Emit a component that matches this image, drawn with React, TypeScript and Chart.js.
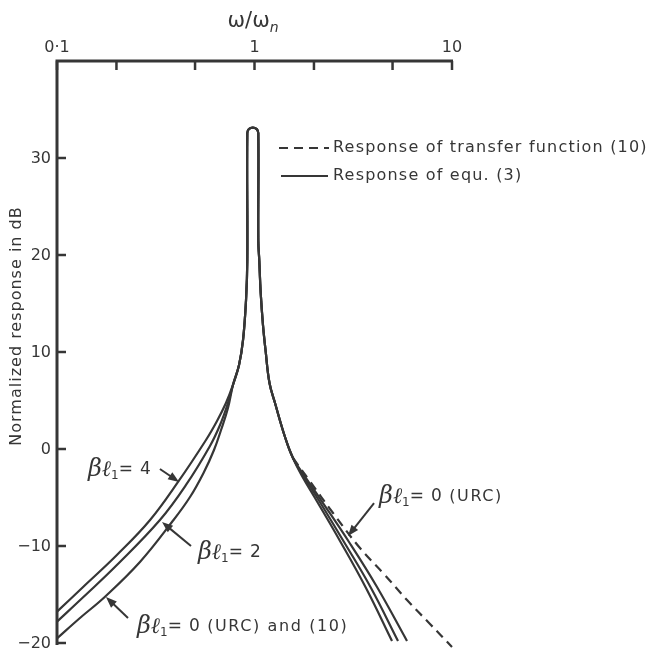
import React, { useEffect, useRef } from "react";
import { Chart, registerables } from "chart.js";

Chart.register(...registerables);

const W = 649;
const H = 650;

// axis ticks
const xTickValues = [0.1, 0.2, 0.5, 1, 2, 5, 10];
const xTickLabels = ["0·1", "", "", "1", "", "", "10"];
const yTickValues = [-20, -10, 0, 10, 20, 30];
const yTickLabels = ["−20", "−10", "0", "10", "20", "30"];

// low-frequency branches (omega/omega_n, dB) up to where the curves merge
const left4W = [0.1, 0.136, 0.201, 0.296, 0.411, 0.568, 0.646, 0.717];
const left4Db = [-16.77, -14.2, -10.93, -7.32, -3.37, 0.93, 2.89, 4.74];
const left2W = [0.1, 0.136, 0.201, 0.332, 0.45, 0.595, 0.669, 0.734];
const left2Db = [-17.8, -15.26, -11.96, -7.32, -3.71, 0.31, 2.47, 4.74];
const left0W = [0.1, 0.1307, 0.175, 0.263, 0.382, 0.4715, 0.555, 0.6236, 0.677, 0.734];
const left0Db = [-19.52, -17.42, -15.23, -11.65, -7.53, -4.95, -2.37, -0.1, 1.96, 4.23];

// common resonance peak
const peakW = [0.778, 0.835, 0.875, 0.906, 0.9195, 0.9195, 0.937, 0.98, 1.026, 1.045, 1.045, 1.057, 1.075, 1.104, 1.137, 1.191, 1.27, 1.427, 1.566];
const peakDb = [6.6, 8.66, 11.24, 15.36, 19.48, 32.58, 32.98, 33.14, 32.98, 32.58, 21.55, 19.48, 16.08, 12.78, 10.21, 6.8, 4.74, 1.24, -0.93];

// high-frequency branches
const right4W = [1.74, 2.025, 2.71, 3.669, 4.969];
const right4Db = [-2.78, -5.05, -9.48, -14.33, -19.79];
const right2W = [1.781, 2.097, 2.84, 3.89, 5.329];
const right2Db = [-2.89, -5.15, -9.59, -14.33, -19.79];
const right0W = [1.823, 2.171, 3.01, 4.172, 5.918];
const right0Db = [-2.99, -5.26, -9.59, -14.23, -19.79];

// transfer function (10), where it departs from the URC curve
const tfW = [1.566, 1.888, 2.498, 3.421, 4.525, 5.918, 7.738, 10];
const tfDb = [-0.93, -3.2, -6.6, -10.21, -12.89, -15.57, -18.04, -20.41];

const INK = "#363636";
const SANS = '"DejaVu Sans", sans-serif';
const SERIF = '"DejaVu Serif", serif';

const pts = (ws: number[], ds: number[]) => ws.map((w, i) => ({ x: w, y: ds[i] }));

function drawRich(
  ctx: CanvasRenderingContext2D,
  parts: { t: string; f: string; dy?: number; ls?: number }[],
  x: number,
  y: number
) {
  let cx = x;
  for (const p of parts) {
    ctx.font = p.f;
    (ctx as any).letterSpacing = (p.ls ?? 0) + "px";
    ctx.fillText(p.t, cx, y + (p.dy ?? 0));
    cx += ctx.measureText(p.t).width;
  }
  (ctx as any).letterSpacing = "0px";
  return cx;
}

function arrow(ctx: CanvasRenderingContext2D, x1: number, y1: number, x2: number, y2: number) {
  const a = Math.atan2(y2 - y1, x2 - x1);
  const L = 11;
  const hw = 4.2;
  ctx.beginPath();
  ctx.moveTo(x1, y1);
  ctx.lineTo(x2 - Math.cos(a) * L * 0.8, y2 - Math.sin(a) * L * 0.8);
  ctx.stroke();
  ctx.beginPath();
  ctx.moveTo(x2, y2);
  ctx.lineTo(x2 - Math.cos(a) * L - Math.sin(a) * hw, y2 - Math.sin(a) * L + Math.cos(a) * hw);
  ctx.lineTo(x2 - Math.cos(a) * L + Math.sin(a) * hw, y2 - Math.sin(a) * L - Math.cos(a) * hw);
  ctx.closePath();
  ctx.fill();
}

// annotation anchors in data space: text, arrow tail, arrow tip
const annotations = [
  { label: "4", extra: "", text: [0.1435, -2.16], tail: [0.332, -2.06], tip: [0.415, -3.4] },
  { label: "2", extra: "", text: [0.5175, -10.72], tail: [0.477, -10.0], tip: [0.34, -7.53] },
  { label: "0", extra: " (URC) and (10)", text: [0.254, -18.35], tail: [0.2288, -17.42], tip: [0.177, -15.26] },
  { label: "0", extra: " (URC)", text: [4.27, -4.95], tail: [4.03, -5.57], tip: [2.975, -8.97] },
];

const overlay = {
  id: "overlay",
  afterDraw(chart: any) {
    const ctx: CanvasRenderingContext2D = chart.ctx;
    const xs = chart.scales.x;
    const ys = chart.scales.y;
    const X = (v: number) => xs.getPixelForValue(v);
    const Y = (v: number) => ys.getPixelForValue(v);
    const left = X(0.1);
    const right = X(10);
    const top = Y(40);
    ctx.save();
    ctx.strokeStyle = INK;
    ctx.fillStyle = INK;
    ctx.lineCap = "butt";

    // axes
    ctx.lineWidth = 3;
    ctx.beginPath();
    ctx.moveTo(left, Y(-20) + 2);
    ctx.lineTo(left, top);
    ctx.lineTo(right + 1, top);
    ctx.stroke();

    ctx.lineWidth = 2.5;
    xTickValues.forEach((v) => {
      ctx.beginPath();
      ctx.moveTo(X(v), top);
      ctx.lineTo(X(v), top + 9);
      ctx.stroke();
    });
    yTickValues.forEach((v) => {
      ctx.beginPath();
      ctx.moveTo(left, Y(v));
      ctx.lineTo(left + 9, Y(v));
      ctx.stroke();
    });

    // tick labels
    ctx.font = `16px ${SANS}`;
    ctx.textBaseline = "middle";
    ctx.textAlign = "center";
    xTickValues.forEach((v, i) => {
      if (xTickLabels[i]) ctx.fillText(xTickLabels[i], X(v), top - 13);
    });
    ctx.textAlign = "right";
    ctx.font = `16px ${SANS}`;
    yTickValues.forEach((v, i) => {
      ctx.fillText(yTickLabels[i], left - 6, Y(v) + 1);
    });

    // axis titles
    ctx.save();
    ctx.translate(17, 326);
    ctx.rotate(-Math.PI / 2);
    ctx.textAlign = "center";
    ctx.font = `16px ${SANS}`;
    (ctx as any).letterSpacing = "1px";
    ctx.fillText("Normalized response in dB", 0, 0);
    (ctx as any).letterSpacing = "0px";
    ctx.restore();

    ctx.textAlign = "left";
    drawRich(
      ctx,
      [
        { t: "ω/ω", f: `21px ${SANS}` },
        { t: "n", f: `italic 14px ${SANS}`, dy: 6 },
      ],
      X(1) - 27,
      22
    );

    // legend
    ctx.lineWidth = 2;
    ctx.setLineDash([9, 6]);
    ctx.beginPath();
    ctx.moveTo(279, 148);
    ctx.lineTo(329, 148);
    ctx.stroke();
    ctx.setLineDash([]);
    ctx.beginPath();
    ctx.moveTo(281, 176);
    ctx.lineTo(328, 176);
    ctx.stroke();
    drawRich(ctx, [{ t: "Response of transfer function (10)", f: `16px ${SANS}`, ls: 1.2 }], 333, 148);
    drawRich(ctx, [{ t: "Response of equ. (3)", f: `16px ${SANS}`, ls: 1.2 }], 333, 176);

    // curve annotations
    ctx.lineWidth = 2;
    annotations.forEach((a) => {
      const tx = X(a.text[0]);
      const ty = Y(a.text[1]);
      drawRich(
        ctx,
        [
          { t: "β", f: `italic 24px ${SERIF}` },
          { t: "ℓ", f: `italic 22px ${SERIF}` },
          { t: "1", f: `12px ${SANS}`, dy: 6 },
          { t: "= " + a.label, f: `17px ${SANS}`, ls: 0.8 },
          { t: a.extra, f: `16px ${SANS}`, ls: 1.6 },
        ],
        tx,
        ty
      );
      arrow(ctx, X(a.tail[0]), Y(a.tail[1]), X(a.tip[0]), Y(a.tip[1]));
    });

    ctx.restore();
  },
};

const solid = (data: any[]) => ({
  data,
  showLine: true,
  borderColor: INK,
  borderWidth: 2.2,
  pointRadius: 0,
  tension: 0.4,
  fill: false,
  clip: false as any,
});

export default function App() {
  const ref = useRef<HTMLCanvasElement>(null);

  useEffect(() => {
    if (!ref.current) return;
    const full4 = [...pts(left4W, left4Db), ...pts(peakW, peakDb), ...pts(right4W, right4Db)];
    const full2 = [...pts(left2W, left2Db), ...pts(peakW, peakDb), ...pts(right2W, right2Db)];
    const full0 = [...pts(left0W, left0Db), ...pts(peakW, peakDb), ...pts(right0W, right0Db)];
    const chart = new Chart(ref.current, {
      type: "scatter",
      data: {
        datasets: [
          { label: "βl1=4", ...solid(full4) },
          { label: "βl1=2", ...solid(full2) },
          { label: "βl1=0 (URC)", ...solid(full0) },
          {
            label: "Response of transfer function (10)",
            ...solid(pts(tfW, tfDb)),
            borderDash: [9, 6],
          },
        ],
      },
      options: {
        responsive: false,
        animation: false,
        layout: { padding: { left: 57, top: 61, right: W - 452, bottom: H - 643 } },
        plugins: { legend: { display: false }, tooltip: { enabled: false } },
        scales: {
          x: { type: "logarithmic", min: 0.1, max: 10, display: false },
          y: { type: "linear", min: -20, max: 40, display: false },
        },
      },
      plugins: [overlay],
    });
    return () => chart.destroy();
  }, []);

  return (
    <div style={{ position: "fixed", left: 0, top: 0, width: W, height: H, background: "#fff" }}>
      <canvas ref={ref} width={W} height={H} style={{ display: "block" }} />
    </div>
  );
}
